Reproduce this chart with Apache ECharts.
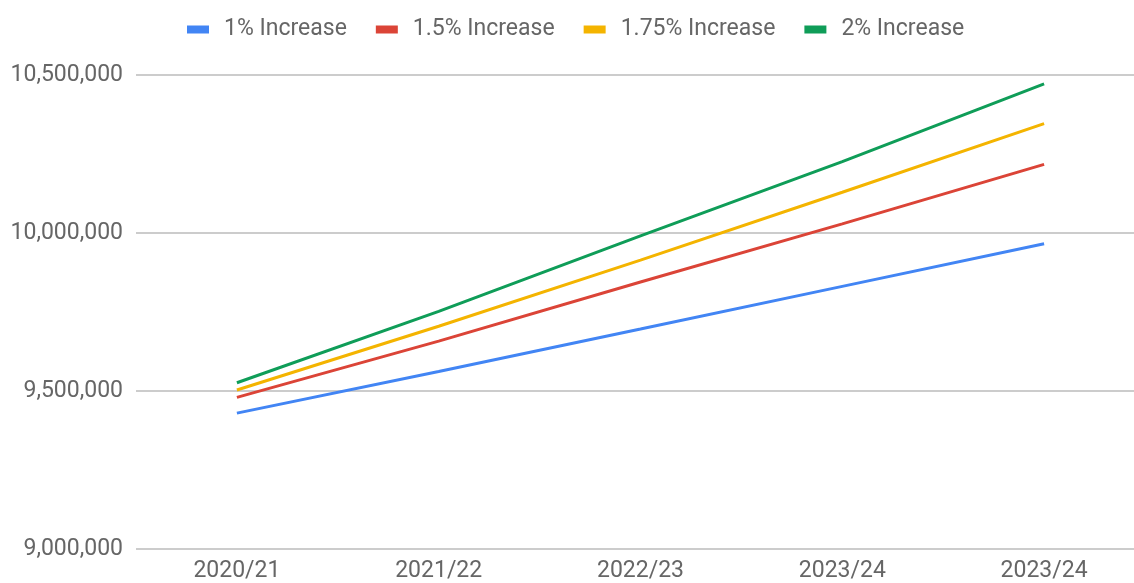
<!DOCTYPE html>
<html>
<head>
<meta charset="utf-8">
<script src="https://cdn.jsdelivr.net/npm/echarts@6/dist/echarts.min.js"></script>
<style>
html,body{margin:0;padding:0;background:#fff;overflow:hidden;}
#c{width:1145px;height:583px;}
</style>
</head>
<body>
<div id="c"></div>
<script>
var categories = ['2020/21', '2021/22', '2022/23', '2023/24', '2023/24'];
var seriesNames = ['1% Increase', '1.5% Increase', '1.75% Increase', '2% Increase'];
var inc1 = [9430000, 9562000, 9696000, 9831000, 9966000];
var inc15 = [9480000, 9658000, 9845000, 10029000, 10217000];
var inc175 = [9503000, 9705000, 9914000, 10129000, 10346000];
var inc2 = [9526000, 9752000, 9991000, 10226000, 10472000];
var yTicks = [9000000, 9500000, 10000000, 10500000];

var colors = ['#4285F4', '#DB4437', '#F4B400', '#0F9D58'];
var values = [inc1, inc15, inc175, inc2];

var chart = echarts.init(document.getElementById('c'));
var textColor = '#666666';
var fs = 23;
chart.setOption({
  animation: false,
  color: colors,
  textStyle: {fontFamily: 'Roboto'},
  legend: {
    top: 13,
    left: 182,
    itemWidth: 22,
    itemHeight: 8,
    itemGap: 29,
    icon: 'rect',
    textStyle: {fontSize: fs, color: textColor, fontFamily: 'Roboto', padding: [0, 0, 0, 10]},
    data: seriesNames
  },
  grid: {left: 136, right: 0, top: 75, bottom: 30, containLabel: false},
  xAxis: {
    type: 'category',
    data: categories,
    boundaryGap: true,
    axisLine: {show: false},
    axisTick: {show: false},
    axisLabel: {fontSize: fs, color: textColor, margin: 11, fontFamily: 'Roboto'}
  },
  yAxis: {
    type: 'value',
    min: yTicks[0],
    max: yTicks[yTicks.length - 1],
    interval: yTicks[1] - yTicks[0],
    axisLine: {show: false},
    axisTick: {show: false},
    splitLine: {lineStyle: {color: '#cccccc', width: 2}},
    axisLabel: {
      fontSize: fs, color: textColor, margin: 13, fontFamily: 'Roboto',
      formatter: function (v) { return v.toLocaleString('en-US'); }
    }
  },
  series: seriesNames.map(function (n, i) {
    return {
      name: n,
      type: 'line',
      data: values[i],
      symbol: 'none',
      lineStyle: {width: 3, color: colors[i]},
      itemStyle: {color: colors[i]}
    };
  })
});
</script>
</body>
</html>
